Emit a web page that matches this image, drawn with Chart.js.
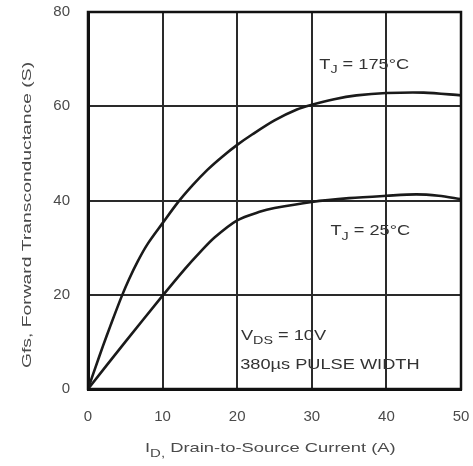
<!DOCTYPE html>
<html>
<head>
<meta charset="utf-8">
<script src="https://cdn.jsdelivr.net/npm/chart.js@4/dist/chart.umd.min.js"></script>
<style>
html,body{margin:0;padding:0;background:#fff;}
#wrap{width:473px;height:466px;position:relative;}
</style>
</head>
<body>
<div id="wrap"><canvas id="c" width="473" height="466"></canvas></div>
<script>
// Drain current (A) and forward transconductance (S)
const idHot   = [0, 1, 2, 3, 4.5, 5.5, 6.7, 8, 10, 12, 14, 16, 18, 20, 22, 25, 28, 30, 33, 36, 40, 45, 50];
const gfsHot  = [0, 4.6, 9.1, 13.4, 19.6, 23.3, 27.2, 30.8, 35.2, 39.5, 43.2, 46.5, 49.3, 51.8, 54, 57, 59.3, 60.3, 61.5, 62.3, 62.8, 62.9, 62.3];
const idCold  = [0, 5, 10, 13, 15, 17, 20, 23, 25, 30, 35, 40, 44, 47, 50];
const gfsCold = [0, 10, 19.8, 25.5, 29, 32.2, 35.8, 37.6, 38.4, 39.7, 40.5, 41.0, 41.3, 41.0, 40.3];
const xTicks = [0, 10, 20, 30, 40, 50];
const yTicks = [0, 20, 40, 60, 80];
const labelHot = ['T', 'J', ' = 175°C'];
const labelCold = ['T', 'J', ' = 25°C'];
const labelVds = ['V', 'DS', ' = 10V'];
const labelPulse = '380µs PULSE WIDTH';
const xTitle = ['I', 'D,', ' Drain-to-Source Current (A)'];
const yTitle = 'Gfs, Forward Transconductance (S)';

const toPts = (xs, ys) => xs.map((x, i) => ({x, y: ys[i]}));
const FONT = '"Liberation Sans", Arial, sans-serif';
const GREY = '#4a4a4a';

// draws "main + subscript + rest" with horizontal stretch sx
function subText(ctx, x, y, parts, size, sx) {
  ctx.save();
  ctx.translate(x, y);
  ctx.scale(sx, 1);
  ctx.textBaseline = 'alphabetic';
  ctx.textAlign = 'left';
  ctx.font = size + 'px ' + FONT;
  ctx.fillText(parts[0], 0, 0);
  let w = ctx.measureText(parts[0]).width;
  ctx.font = Math.round(size * 0.8) + 'px ' + FONT;
  ctx.fillText(parts[1], w, size * 0.35);
  w += ctx.measureText(parts[1]).width;
  ctx.font = size + 'px ' + FONT;
  ctx.fillText(parts[2], w, 0);
  ctx.restore();
}
function plainText(ctx, x, y, text, size, sx) {
  ctx.save();
  ctx.translate(x, y);
  ctx.scale(sx, 1);
  ctx.textBaseline = 'alphabetic';
  ctx.textAlign = 'left';
  ctx.font = size + 'px ' + FONT;
  ctx.fillText(text, 0, 0);
  ctx.restore();
}

const deco = {
  id: 'deco',
  afterDraw(chart) {
    const {ctx, chartArea: a, scales} = chart;
    ctx.save();
    ctx.strokeStyle = '#111';
    ctx.lineWidth = 2.5;
    ctx.strokeRect(a.left, a.top, a.right - a.left, a.bottom - a.top);
    ctx.fillStyle = '#333';
    const xs = scales.x, ys = scales.y;
    subText(ctx, xs.getPixelForValue(31.0), ys.getPixelForValue(68), labelHot, 14, 1.3);
    subText(ctx, xs.getPixelForValue(32.5), ys.getPixelForValue(32.6), labelCold, 14, 1.3);
    subText(ctx, xs.getPixelForValue(20.5), ys.getPixelForValue(10.5), labelVds, 14, 1.3);
    plainText(ctx, xs.getPixelForValue(20.4), ys.getPixelForValue(4.3), labelPulse, 14, 1.3);
    ctx.fillStyle = GREY;
    subText(ctx, 145, 452, xTitle, 13.5, 1.36);
    ctx.translate(27, 215);
    ctx.rotate(-Math.PI / 2);
    ctx.scale(1.43, 1);
    ctx.font = '13.5px ' + FONT;
    ctx.textAlign = 'center';
    ctx.textBaseline = 'middle';
    ctx.fillText(yTitle, 0, 0);
    ctx.restore();
  }
};

new Chart(document.getElementById('c'), {
  type: 'line',
  data: {
    datasets: [
      {label: 'TJ = 175°C', data: toPts(idHot, gfsHot), borderColor: '#1a1a1a', borderWidth: 2.6,
       pointRadius: 0, tension: 0.3, fill: false},
      {label: 'TJ = 25°C', data: toPts(idCold, gfsCold), borderColor: '#1a1a1a', borderWidth: 2.6,
       pointRadius: 0, tension: 0.3, fill: false}
    ]
  },
  options: {
    responsive: false,
    animation: false,
    devicePixelRatio: 1,
    layout: {padding: {left: 0, top: 12, right: 12, bottom: 0}},
    plugins: {legend: {display: false}, tooltip: {enabled: false}},
    scales: {
      x: {
        type: 'linear', min: 0, max: 50,
        afterBuildTicks: s => { s.ticks = xTicks.map(v => ({value: v})); },
        afterFit: s => { s.height = 77; s.paddingLeft = 0; s.paddingRight = 0; },
        grid: {color: '#2a2a2a', lineWidth: 2, drawTicks: false},
        border: {color: '#111', width: 3},
        ticks: {padding: 19, color: GREY, font: {family: FONT, size: 15}}
      },
      y: {
        type: 'linear', min: 0, max: 80,
        afterBuildTicks: s => { s.ticks = yTicks.map(v => ({value: v})); },
        afterFit: s => { s.width = 88; s.paddingTop = 0; s.paddingBottom = 0; },
        grid: {color: '#2a2a2a', lineWidth: 2, drawTicks: false},
        border: {color: '#111', width: 3},
        ticks: {padding: 18, color: GREY, font: {family: FONT, size: 15}}
      }
    }
  },
  plugins: [deco]
});
</script>
</body>
</html>
